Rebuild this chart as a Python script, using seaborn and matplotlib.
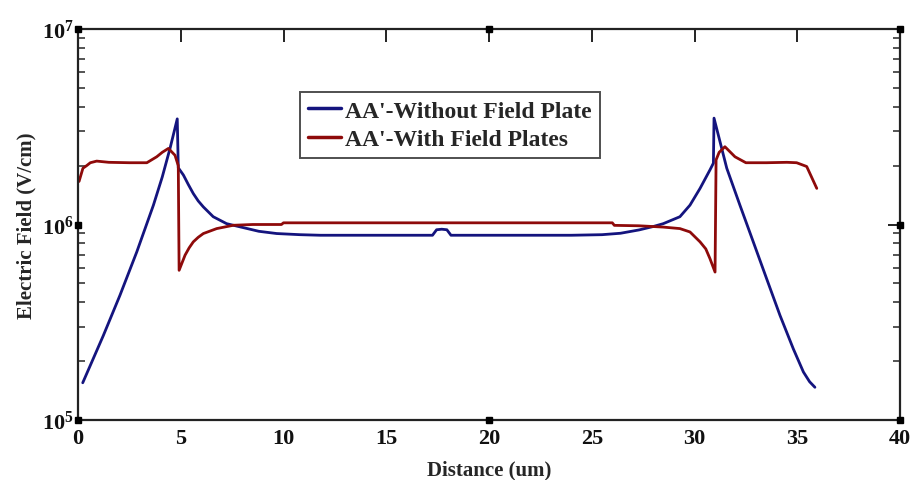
import numpy as np
import pandas as pd
import seaborn as sns
import matplotlib
matplotlib.use("Agg")
import matplotlib.pyplot as plt
from matplotlib.ticker import LogLocator, LogFormatterMathtext, MultipleLocator, NullFormatter

# Electric field along cut AA' (distance in um, field in V/cm)
dist_without = [0.23, 1.23, 2.04, 2.86, 3.67, 4.1, 4.48, 4.83, 4.88, 5.13, 5.37, 5.61, 5.85,
                6.10, 6.58, 7.23, 7.88, 8.8, 9.67, 10.8, 11.8, 13.0, 15.0, 17.25, 17.45,
                17.7, 17.95, 18.15, 20.0, 22.0, 24.0, 25.5, 26.4, 27.3, 28.0, 28.48, 29.29,
                29.78, 30.27, 30.75, 30.92, 30.95, 31.57, 32.21, 32.86, 33.51, 34.16,
                34.81, 35.3, 35.6, 35.86]
field_without = [1.55e5, 2.70e5, 4.34e5, 7.24e5, 1.256e6, 1.75e6, 2.455e6, 3.47e6, 1.95e6,
                 1.79e6, 1.60e6, 1.44e6, 1.32e6, 1.23e6, 1.096e6, 1.01e6, 9.73e5, 9.23e5,
                 8.99e5, 8.87e5, 8.81e5, 8.81e5, 8.81e5, 8.81e5, 9.40e5, 9.46e5, 9.40e5,
                 8.81e5, 8.81e5, 8.81e5, 8.81e5, 8.87e5, 9.02e5, 9.38e5, 9.77e5, 1.01e6,
                 1.096e6, 1.256e6, 1.53e6, 1.90e6, 2.06e6, 3.50e6, 1.94e6, 1.256e6, 8.15e5,
                 5.28e5, 3.43e5, 2.31e5, 1.76e5, 1.57e5, 1.47e5]

dist_with = [0.05, 0.24, 0.42, 0.6, 0.91, 1.5, 2.5, 3.35, 3.83, 4.1, 4.4, 4.72, 4.88,
             4.92, 5.21, 5.41, 5.61, 5.85, 6.10, 6.75, 7.56, 8.5, 9.9, 10.0, 15.0, 20.0,
             25.0, 26.0, 26.1, 27.3, 28.48, 29.29, 29.78, 30.27, 30.55, 30.75, 31.0, 31.05,
             31.2, 31.48, 31.97, 32.5, 33.5, 34.5, 34.97, 35.46, 35.95]
field_with = [1.66e6, 1.94e6, 2.0e6, 2.07e6, 2.11e6, 2.08e6, 2.07e6, 2.07e6, 2.22e6, 2.34e6,
              2.45e6, 2.26e6, 2.0e6, 5.83e5, 6.97e5, 7.6e5, 8.15e5, 8.6e5, 8.99e5, 9.53e5,
              9.91e5, 1.0e6, 1.0e6, 1.02e6, 1.02e6, 1.02e6, 1.02e6, 1.02e6, 9.9e5, 9.85e5,
              9.7e5, 9.53e5, 9.16e5, 8.15e5, 7.5e5, 6.70e5, 5.71e5, 2.14e6, 2.34e6, 2.50e6,
              2.22e6, 2.07e6, 2.07e6, 2.08e6, 2.07e6, 1.98e6, 1.53e6]

series_names = ["AA'-Without Field Plate", "AA'-With Field Plates"]
series_colors = ["#14147e", "#8e0a0a"]

df = pd.concat([
    pd.DataFrame({"Distance": dist_without, "Field": field_without, "Case": series_names[0]}),
    pd.DataFrame({"Distance": dist_with, "Field": field_with, "Case": series_names[1]}),
], ignore_index=True)

sns.set_style("white")
plt.rcParams["font.family"] = ["Liberation Serif", "DejaVu Serif"]
plt.rcParams["font.weight"] = "bold"
plt.rcParams["mathtext.fontset"] = "custom"
plt.rcParams["mathtext.rm"] = "Liberation Serif:bold"
plt.rcParams["mathtext.bf"] = "Liberation Serif:bold"
plt.rcParams["mathtext.it"] = "Liberation Serif:bold"
plt.rcParams["mathtext.default"] = "bf"

fig = plt.figure(figsize=(9.15, 4.81), dpi=100)
ax = fig.add_axes([78 / 915, 1 - 421 / 481, 822 / 915, 391 / 481])

sns.lineplot(data=df, x="Distance", y="Field", hue="Case", hue_order=series_names,
             palette=dict(zip(series_names, series_colors)), sort=False, estimator=None,
             units="Case", linewidth=2.0, ax=ax)

ax.set_yscale("log")
ax.set_xlim(0, 40)
ax.set_ylim(1e5, 1e7)

ax.xaxis.set_major_locator(MultipleLocator(5))
ax.yaxis.set_major_locator(LogLocator(base=10, numticks=10))
ax.yaxis.set_minor_locator(LogLocator(base=10, subs=np.arange(2, 10), numticks=20))
ax.yaxis.set_major_formatter(LogFormatterMathtext())
ax.yaxis.set_minor_formatter(NullFormatter())

ax.tick_params(axis="both", which="major", direction="in", length=9, width=1.3,
               top=True, right=True, labelsize=16, pad=3, colors="#111111")
ax.tick_params(axis="y", which="minor", direction="in", length=5, width=1.1,
               left=True, right=True)
ax.tick_params(axis="x", which="major", pad=6)
for lab in ax.get_xticklabels() + ax.get_yticklabels():
    lab.set_fontweight("bold")

for sp in ax.spines.values():
    sp.set_linewidth(1.6)
    sp.set_color("#222222")

# square markers on the frame at the corners and midpoints
dot_x = [0, 20, 40, 0, 20, 40, 0, 40]
dot_y = [1e5, 1e5, 1e5, 1e7, 1e7, 1e7, 1e6, 1e6]
ax.plot(dot_x, dot_y, linestyle="none", marker="s", markersize=5, color="black",
        clip_on=False, zorder=5)

ax.set_xlabel("Distance (um)", fontsize=15, fontweight="bold", labelpad=8)
ax.set_ylabel("Electric Field (V/cm)", fontsize=15, fontweight="bold", labelpad=4)

leg = ax.legend(loc="upper left", bbox_to_anchor=(0.27, 0.839), borderaxespad=0,
                frameon=True, fancybox=False, edgecolor="#222222",
                handlelength=1.4, handletextpad=0.15, borderpad=0.35, labelspacing=0.28,
                prop={"family": ["Liberation Serif"], "weight": "bold", "size": 17})
leg.get_frame().set_linewidth(1.4)
for line in leg.get_lines():
    line.set_linewidth(2.5)

fig.savefig("out.png", dpi=100)
